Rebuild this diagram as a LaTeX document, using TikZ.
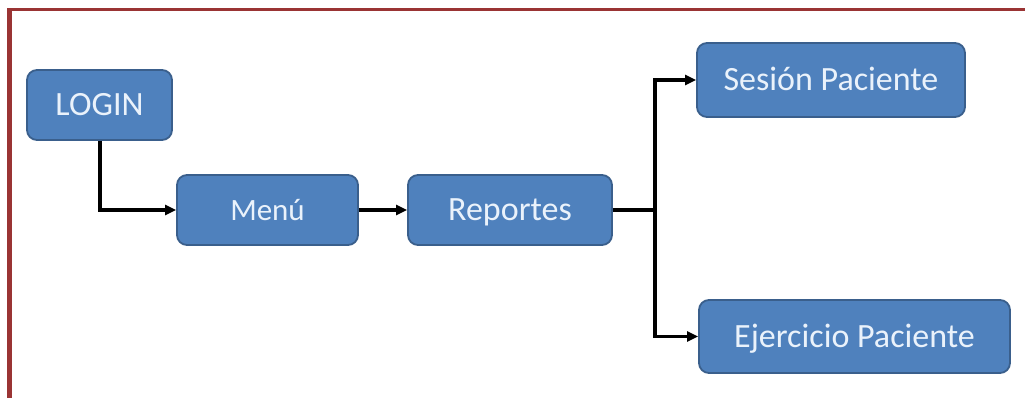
\documentclass[tikz,border=0pt]{standalone}
\usepackage{fontspec}
\setmainfont{Carlito}
\usetikzlibrary{arrows.meta}
\definecolor{boxfill}{HTML}{4F81BD}
\definecolor{boxline}{HTML}{3A5F8C}
\definecolor{boxtext}{HTML}{EAF2FB}
\definecolor{frame}{HTML}{9A3434}
\begin{document}
\begin{tikzpicture}[x=1pt,y=-1pt,
  box/.style={draw=boxline, fill=boxfill, line width=1.8pt, rounded corners=10pt,
    text=boxtext, font=\fontsize{34}{38}\selectfont, inner sep=0pt, anchor=center,
    text height=21pt, text depth=0pt},
  link/.style={line width=3.4pt, black, -{Triangle[length=11pt,width=10pt]}},
  joint/.style={line width=3.4pt, black}]
  \useasboundingbox (0,0) rectangle (1025,398);
  \fill[white] (0,0) rectangle (1025,398);
  % outer frame: top and left rules
  \fill[frame] (7,8) rectangle (1025,11.5);
  \fill[frame] (7,8) rectangle (11.5,398);

  \node[box, minimum width=145pt, minimum height=70pt] (login) at (99.5,105) {LOGIN};
  \node[box, minimum width=181pt, minimum height=70pt, font=\fontsize{31}{36}\selectfont] (menu) at (267.5,210) {Menú};
  \node[box, minimum width=204pt, minimum height=70pt] (rep) at (510,210) {Reportes};
  \node[box, minimum width=268pt, minimum height=74pt] (ses) at (831,80) {Sesión Paciente};
  \node[box, minimum width=311pt, minimum height=73pt] (eje) at (854.5,336.5) {Ejercicio Paciente};

  \coordinate (split) at (655,210);

  \draw[link] (login.south -| 100,0) |- (menu.west);
  \draw[link] (menu.east) -- (rep.west);
  \draw[joint] (rep.east) -- (split);
  \draw[link] (split) |- (ses.west);
  \draw[link] (split) |- (eje.west);
\end{tikzpicture}
\end{document}
